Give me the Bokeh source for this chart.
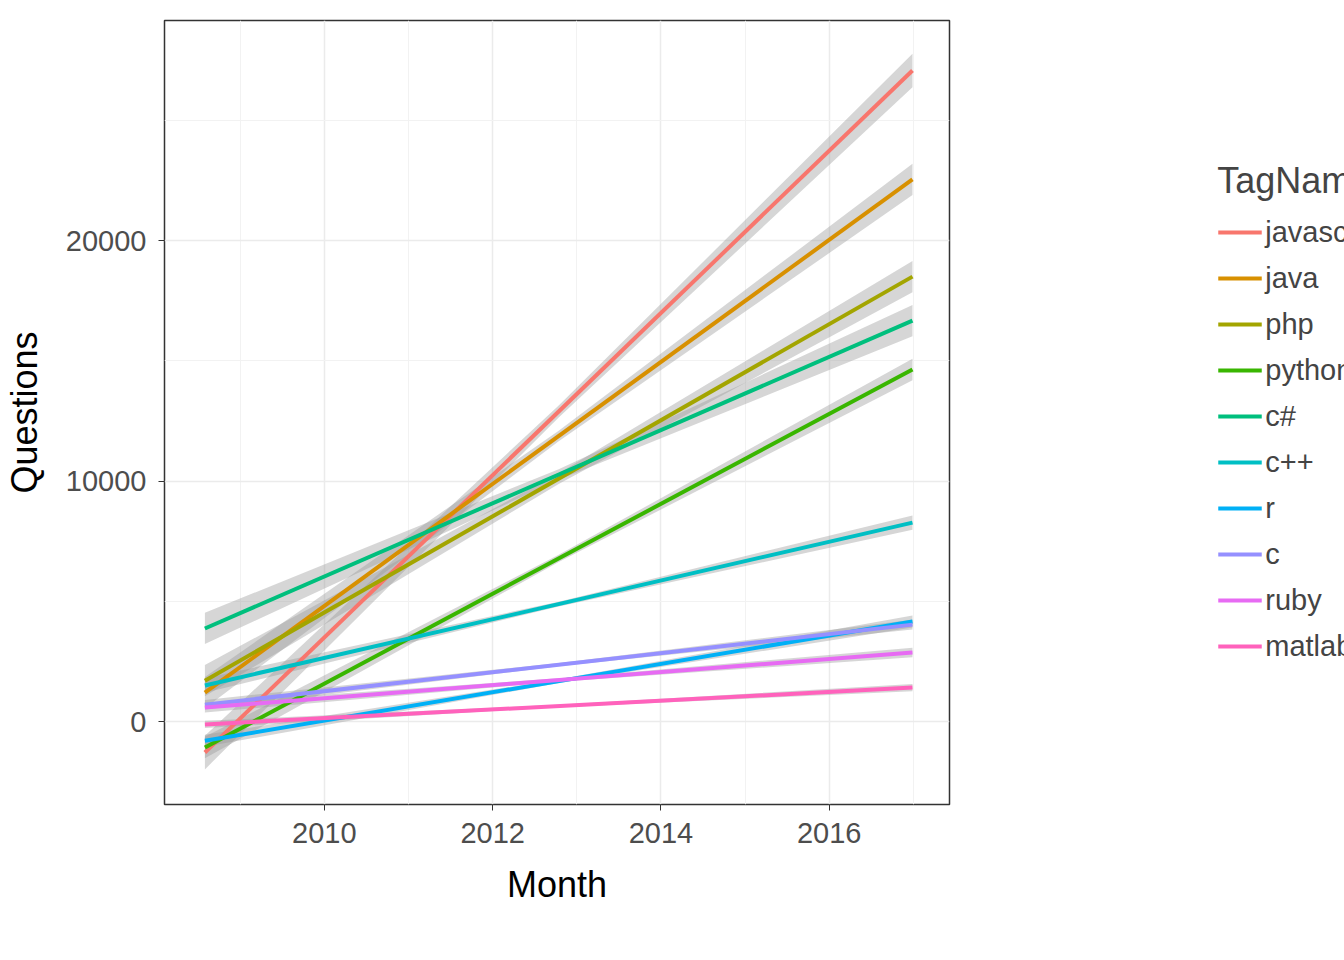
from bokeh.plotting import figure
from bokeh.models import Legend, LegendItem, FixedTicker
from bokeh.embed import file_html
from bokeh.resources import INLINE

# fitted lines
tags = ["javascript", "java", "php", "python", "c#", "c++", "r", "c", "ruby", "matlab"]
colors = ["#F8766D", "#D89000", "#A3A500", "#39B600", "#00BF7D",
          "#00BFC4", "#00B0F6", "#9590FF", "#E76BF3", "#FF62BC"]
x_start = 2008.58
x_end = 2016.99
y_start = [-1290, 1200, 1700, -1080, 3870, 1500, -800, 700, 580, -120]
y_end = [27070, 22540, 18500, 14640, 16670, 8270, 4160, 4030, 2870, 1410]
# confidence half-widths at start, middle, end
se_start = [700, 650, 650, 450, 650, 300, 250, 200, 200, 150]
se_mid = [250, 220, 220, 150, 220, 100, 80, 70, 70, 50]
se_end = [700, 650, 650, 450, 650, 300, 250, 200, 200, 150]

p = figure(frame_width=785, frame_height=784, output_backend="svg", toolbar_location=None,
           x_range=(2008.1, 2017.43), y_range=(-3450, 29150),
           min_border_left=10, min_border_top=20, min_border_bottom=10,
           min_border_right=10)

x_mid = (x_start + x_end) / 2
for i, t in enumerate(tags):
    ym = (y_start[i] + y_end[i]) / 2
    p.patch([x_start, x_mid, x_end, x_end, x_mid, x_start],
            [y_start[i] + se_start[i], ym + se_mid[i], y_end[i] + se_end[i],
             y_end[i] - se_end[i], ym - se_mid[i], y_start[i] - se_start[i]],
            fill_color="#999999", fill_alpha=0.4, line_color=None)

items = []
for i, t in enumerate(tags):
    r = p.line([x_start, x_end], [y_start[i], y_end[i]], line_color=colors[i], line_width=4)
    items.append(LegendItem(label=t, renderers=[r]))

legend = Legend(items=items, title="TagName", title_text_font_size="36px",
                title_text_font_style="normal", title_standoff=12,
                label_text_font_size="29px", label_text_font="Liberation Sans",
                title_text_font="Liberation Sans", glyph_width=44, glyph_height=36,
                label_height=36, spacing=10, padding=4, margin=40,
                location="center", label_standoff=4,
                border_line_color=None, background_fill_color=None)
p.add_layout(legend, "right")

p.xaxis.ticker = FixedTicker(ticks=[2010, 2012, 2014, 2016],
                             minor_ticks=[2009, 2011, 2013, 2015, 2017])
p.yaxis.ticker = FixedTicker(ticks=[0, 10000, 20000], minor_ticks=[-5000, 5000, 15000, 25000])
p.xaxis.axis_label = "Month"
p.yaxis.axis_label = "Questions"
for ax in [p.xaxis, p.yaxis]:
    ax.axis_label_text_font_size = "36px"
    ax.axis_label_text_font_style = "normal"
    ax.axis_label_text_color = "black"
    ax.axis_label_text_font = "Liberation Sans"
    ax.axis_label_standoff = 18
    ax.major_label_text_font_size = "29px"
    ax.major_label_text_font = "Liberation Sans"
    ax.major_label_text_color = "#4d4d4d"
    ax.major_label_standoff = 12
    ax.axis_line_color = None
    ax.major_tick_line_color = "#333333"
    ax.major_tick_in = 0
    ax.major_tick_out = 6
    ax.minor_tick_line_color = None
p.grid.grid_line_color = "#ebebeb"
p.grid.grid_line_width = 1.5
p.grid.minor_grid_line_color = "#f2f2f2"
p.outline_line_color = "#333333"
p.outline_line_width = 1.5

open("out.html", "w").write(file_html(p, INLINE))
